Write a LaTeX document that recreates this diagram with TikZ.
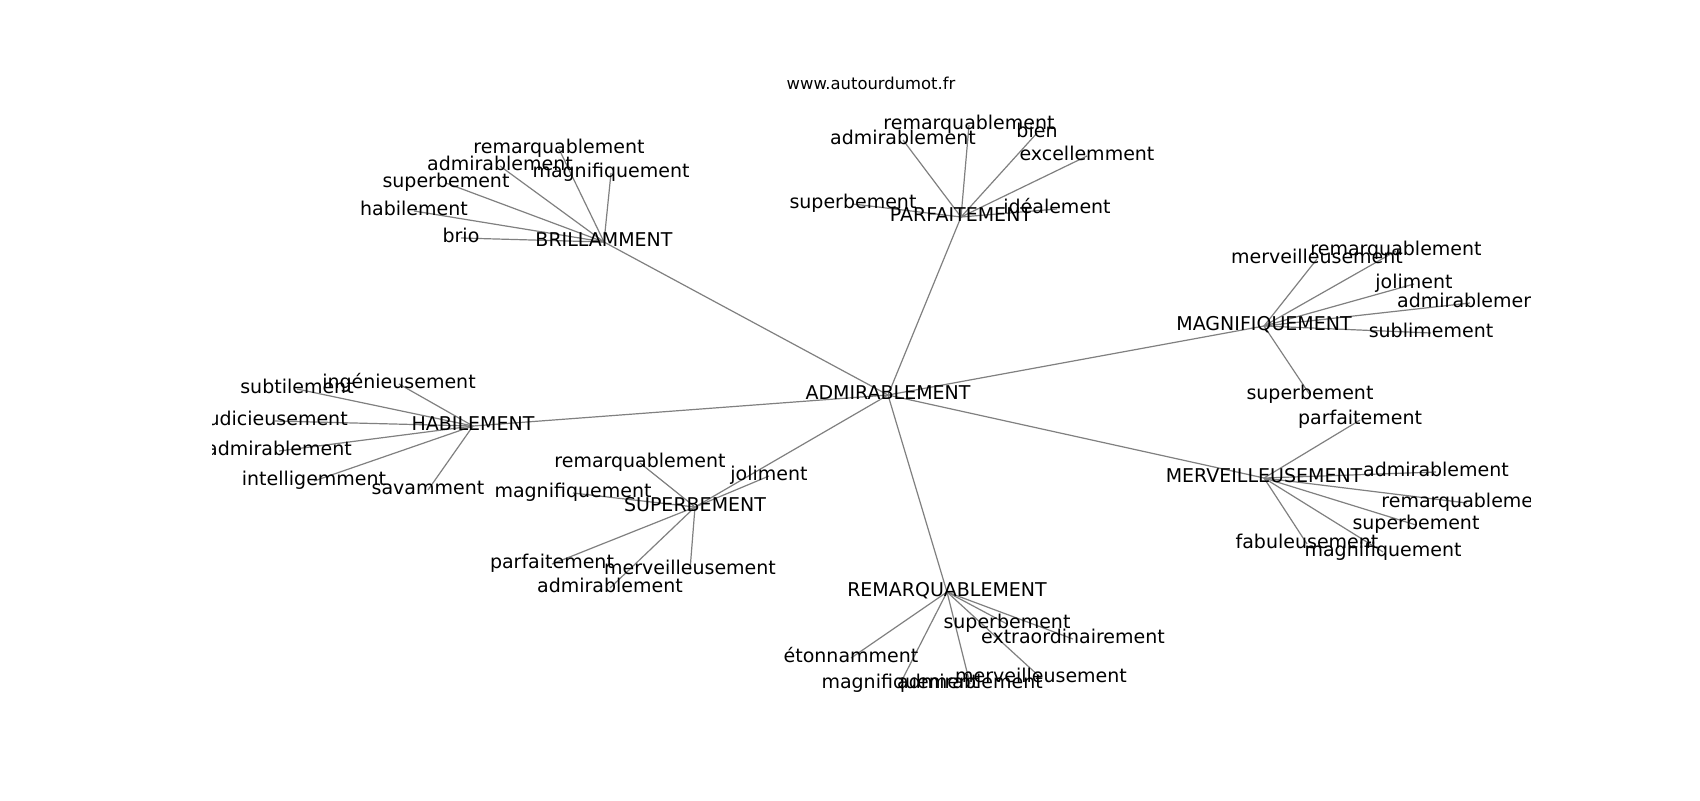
\documentclass[tikz,border=0pt]{standalone}
\usepackage{fontspec}
\setmainfont{DejaVu Sans}
\pgfdeclarelayer{back}
\pgfdeclarelayer{bg}
\pgfsetlayers{back,bg,main}
\begin{document}
\begin{tikzpicture}[x=0.5pt,y=-0.5pt,
  lbl/.style={inner sep=0pt, font=\fontsize{9.5}{11}\selectfont, text height=7.2pt, text depth=2.25pt},
  ttl/.style={inner sep=0pt, font=\fontsize{8.2}{10}\selectfont},
  edge/.style={draw=gray, line width=0.6pt}]
\useasboundingbox (0,0) rectangle (1700,800);
\begin{pgfonlayer}{back}
\fill[white] (0,0) rectangle (1700,800);
\end{pgfonlayer}
\node[ttl] (title) at (871,83) {www.autourdumot.fr};
\begin{scope}
\clip (212.5,96) rectangle (1530,712);
\node[lbl] (adm) at (888,395) {ADMIRABLEMENT};
% BRILLAMMENT
\node[lbl] (bri) at (604,242) {BRILLAMMENT};
\node[lbl] (b1) at (559,149) {remarquablement};
\node[lbl] (b2) at (500,166) {admirablement};
\node[lbl] (b3) at (611,173) {magnifiquement};
\node[lbl] (b4) at (446,183) {superbement};
\node[lbl] (b5) at (414,211) {habilement};
\node[lbl] (b6) at (461,238) {brio};
% PARFAITEMENT
\node[lbl] (par) at (961,217) {PARFAITEMENT};
\node[lbl] (p1) at (969,125) {remarquablement};
\node[lbl] (p2) at (903,140) {admirablement};
\node[lbl] (p3) at (1037,133) {bien};
\node[lbl] (p4) at (1087,156) {excellemment};
\node[lbl] (p5) at (853,204) {superbement};
\node[lbl] (p6) at (1057,209) {idéalement};
% MAGNIFIQUEMENT
\node[lbl] (mag) at (1264,326) {MAGNIFIQUEMENT};
\node[lbl] (m1) at (1317,259) {merveilleusement};
\node[lbl] (m2) at (1396,251) {remarquablement};
\node[lbl] (m3) at (1414,284) {joliment};
\node[lbl] (m4) at (1470,303) {admirablement};
\node[lbl] (m5) at (1431,333) {sublimement};
\node[lbl] (m6) at (1310,395) {superbement};
% MERVEILLEUSEMENT
\node[lbl] (mer) at (1264,478) {MERVEILLEUSEMENT};
\node[lbl] (v1) at (1360,420) {parfaitement};
\node[lbl] (v2) at (1436,472) {admirablement};
\node[lbl] (v3) at (1467,503) {remarquablement};
\node[lbl] (v4) at (1416,525) {superbement};
\node[lbl] (v5) at (1307,544) {fabuleusement};
\node[lbl] (v6) at (1383,552) {magnifiquement};
% HABILEMENT
\node[lbl] (hab) at (473,426) {HABILEMENT};
\node[lbl] (h1) at (297,389) {subtilement};
\node[lbl] (h2) at (399,384) {ingénieusement};
\node[lbl] (h3) at (275,421) {judicieusement};
\node[lbl] (h4) at (279,451) {admirablement};
\node[lbl] (h5) at (314,481) {intelligemment};
\node[lbl] (h6) at (428,490) {savamment};
% SUPERBEMENT
\node[lbl] (sup) at (695,507) {SUPERBEMENT};
\node[lbl] (s1) at (640,463) {remarquablement};
\node[lbl] (s2) at (769,476) {joliment};
\node[lbl] (s3) at (573,493) {magnifiquement};
\node[lbl] (s4) at (552,564) {parfaitement};
\node[lbl] (s5) at (690,570) {merveilleusement};
\node[lbl] (s6) at (610,588) {admirablement};
% REMARQUABLEMENT
\node[lbl] (rem) at (947,592) {REMARQUABLEMENT};
\node[lbl] (r1) at (1007,624) {superbement};
\node[lbl] (r2) at (1073,639) {extraordinairement};
\node[lbl] (r3) at (851,658) {étonnamment};
\node[lbl] (r4) at (900,684) {magnifiquement};
\node[lbl] (r5) at (970,684) {admirablement};
\node[lbl] (r6) at (1041,678) {merveilleusement};
\end{scope}
\begin{pgfonlayer}{bg}
\foreach \a/\b in {adm/bri,adm/par,adm/mag,adm/mer,adm/hab,adm/sup,adm/rem,
  bri/b1,bri/b2,bri/b3,bri/b4,bri/b5,bri/b6,
  par/p1,par/p2,par/p3,par/p4,par/p5,par/p6,
  mag/m1,mag/m2,mag/m3,mag/m4,mag/m5,mag/m6,
  mer/v1,mer/v2,mer/v3,mer/v4,mer/v5,mer/v6,
  hab/h1,hab/h2,hab/h3,hab/h4,hab/h5,hab/h6,
  sup/s1,sup/s2,sup/s3,sup/s4,sup/s5,sup/s6,
  rem/r1,rem/r2,rem/r3,rem/r4,rem/r5,rem/r6}
  \draw[edge] (\a.center) -- (\b.center);
\end{pgfonlayer}
\end{tikzpicture}
\end{document}
